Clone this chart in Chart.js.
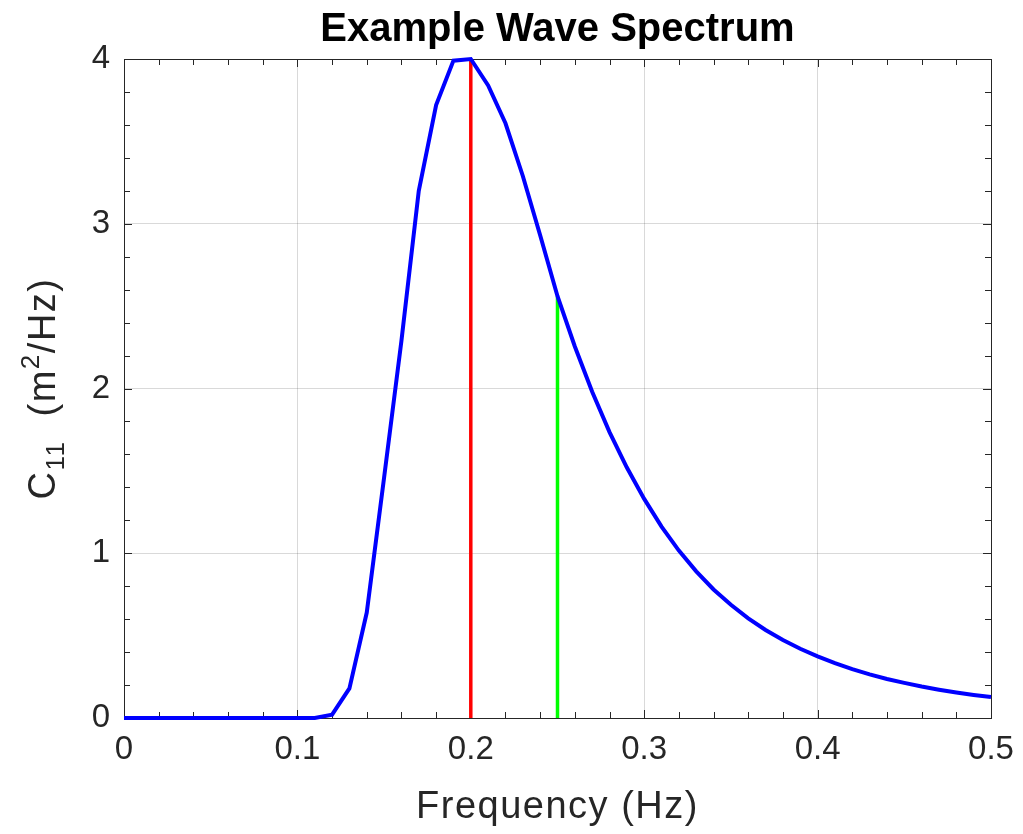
<!DOCTYPE html>
<html>
<head>
<meta charset="utf-8">
<script src="https://cdn.jsdelivr.net/npm/chart.js"></script>
<style>
  html, body { margin: 0; padding: 0; background: #fff; }
</style>
</head>
<body>
<canvas id="myChart" width="1023" height="834"></canvas>
<script>
// spectrum sampled every 0.01 Hz
var freq = [0.00, 0.01, 0.02, 0.03, 0.04, 0.05, 0.06, 0.07, 0.08, 0.09,
            0.10, 0.11, 0.12, 0.13, 0.14, 0.15, 0.16, 0.17, 0.18, 0.19,
            0.20, 0.21, 0.22, 0.23, 0.24, 0.25, 0.26, 0.27, 0.28, 0.29,
            0.30, 0.31, 0.32, 0.33, 0.34, 0.35, 0.36, 0.37, 0.38, 0.39,
            0.40, 0.41, 0.42, 0.43, 0.44, 0.45, 0.46, 0.47, 0.48, 0.49, 0.50];
var c11 = [0, 0, 0, 0, 0, 0, 0, 0, 0, 0,
           0, 0, 0.02, 0.18, 0.64, 1.46, 2.29, 3.20, 3.72, 3.99,
           4.00, 3.84, 3.61, 3.29, 2.93, 2.56, 2.255, 1.98, 1.735, 1.52,
           1.33, 1.162, 1.016, 0.89, 0.78, 0.687, 0.605, 0.534, 0.473, 0.42,
           0.374, 0.333, 0.297, 0.265, 0.237, 0.213, 0.191, 0.172, 0.155, 0.14, 0.127];
var peakFreq = 0.20;
var peakTop = 4.0;
var markFreq = 0.25;
var markTop = 2.56;
var xTicks = [0, 0.1, 0.2, 0.3, 0.4, 0.5];
var yTicks = [0, 1, 2, 3, 4];

var FONT = '"Liberation Sans", Arial, Helvetica, sans-serif';
var INK = '#262626';

var curve = freq.map(function (f, i) { return { x: f, y: c11[i] }; });

var axesBox = {
  id: 'axesBox',
  beforeDatasetsDraw: function (chart) {
    var a = chart.chartArea, ctx = chart.ctx;
    var xs = chart.scales.x, ys = chart.scales.y;
    ctx.save();
    ctx.strokeStyle = INK;
    ctx.lineWidth = 1;
    ctx.beginPath();
    // minor ticks every 0.02 Hz and 0.2 units, pointing inward on all sides
    for (var i = 0; i <= 25; i++) {
      var px = Math.round(xs.getPixelForValue(i * 0.02)) + 0.5;
      var len = (i % 5 === 0) ? 8 : 6;
      ctx.moveTo(px, a.bottom); ctx.lineTo(px, a.bottom - len);
      ctx.moveTo(px, a.top); ctx.lineTo(px, a.top + len);
    }
    for (var j = 0; j <= 20; j++) {
      var py = Math.round(ys.getPixelForValue(j * 0.2)) + 0.5;
      var ln = (j % 5 === 0) ? 8 : 6;
      ctx.moveTo(a.left, py); ctx.lineTo(a.left + ln, py);
      ctx.moveTo(a.right, py); ctx.lineTo(a.right - ln, py);
    }
    ctx.stroke();
    ctx.strokeRect(Math.round(a.left) + 0.5, Math.round(a.top) + 0.5,
                   Math.round(a.right - a.left), Math.round(a.bottom - a.top));
    ctx.restore();
  },
  afterDraw: function (chart) {
    var a = chart.chartArea, ctx = chart.ctx;
    var cx = (a.left + a.right) / 2;
    ctx.save();
    ctx.fillStyle = '#000';
    ctx.textAlign = 'center';
    ctx.textBaseline = 'alphabetic';
    ctx.font = 'bold 40px ' + FONT;
    ctx.fillText('Example Wave Spectrum', cx, 41);

    ctx.fillStyle = INK;
    ctx.letterSpacing = '1.5px';
    ctx.font = '38px ' + FONT;
    ctx.fillText('Frequency (Hz)', cx, 818);

    // y label with subscript and superscript
    var parts = [
      { t: 'C', s: 38, dy: 0 },
      { t: '11', s: 26, dy: 9 },
      { t: '  (m', s: 38, dy: 0 },
      { t: '2', s: 26, dy: -16 },
      { t: '/Hz)', s: 38, dy: 0 }
    ];
    var total = 0;
    parts.forEach(function (p) {
      ctx.font = p.s + 'px ' + FONT;
      p.w = ctx.measureText(p.t).width;
      total += p.w;
    });
    ctx.translate(55, (a.top + a.bottom) / 2);
    ctx.rotate(-Math.PI / 2);
    ctx.textAlign = 'left';
    var x0 = -total / 2;
    parts.forEach(function (p) {
      ctx.font = p.s + 'px ' + FONT;
      ctx.fillText(p.t, x0, p.dy);
      x0 += p.w;
    });
    ctx.restore();
  }
};

var ctx = document.getElementById('myChart').getContext('2d');
window.spectrum = new Chart(ctx, {
  type: 'line',
  data: {
    datasets: [
      {
        label: 'C11',
        data: curve,
        borderColor: '#0000ff',
        borderWidth: 4,
        pointRadius: 0,
        tension: 0,
        clip: false
      },
      {
        label: 'peak',
        data: [{ x: peakFreq, y: 0 }, { x: peakFreq, y: peakTop }],
        borderColor: '#ff0000',
        borderWidth: 3.5,
        pointRadius: 0
      },
      {
        label: 'mark',
        data: [{ x: markFreq, y: 0 }, { x: markFreq, y: markTop }],
        borderColor: '#00ff00',
        borderWidth: 3.5,
        pointRadius: 0
      }
    ]
  },
  options: {
    responsive: false,
    animation: false,
    devicePixelRatio: 1,
    layout: { padding: { top: 59, right: 32, left: 0, bottom: 0 } },
    plugins: {
      legend: { display: false },
      title: { display: false },
      tooltip: { enabled: false }
    },
    scales: {
      x: {
        type: 'linear',
        min: 0,
        max: 0.5,
        afterBuildTicks: function (s) { s.ticks = xTicks.map(function (v) { return { value: v }; }); },
        afterFit: function (s) { s.height = 116; s.paddingLeft = 0; s.paddingRight = 0; },
        ticks: {
          color: INK,
          font: { family: FONT, size: 33 },
          padding: 12,
          maxRotation: 0,
          callback: function (v) { return String(v); }
        },
        grid: { color: 'rgba(0,0,0,0.15)', lineWidth: 1, drawTicks: false },
        border: { display: false }
      },
      y: {
        type: 'linear',
        min: 0,
        max: 4,
        afterBuildTicks: function (s) { s.ticks = yTicks.map(function (v) { return { value: v }; }); },
        afterFit: function (s) { s.width = 124; s.paddingTop = 0; s.paddingBottom = 0; },
        ticks: {
          color: INK,
          font: { family: FONT, size: 33 },
          padding: 14,
          callback: function (v) { return String(v); }
        },
        grid: { color: 'rgba(0,0,0,0.15)', lineWidth: 1, drawTicks: false },
        border: { display: false }
      }
    }
  },
  plugins: [axesBox]
});
</script>
</body>
</html>
